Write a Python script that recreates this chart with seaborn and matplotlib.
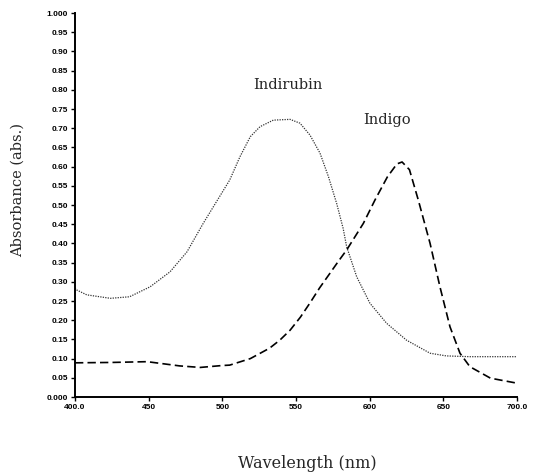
import matplotlib
matplotlib.use("Agg")
import matplotlib.pyplot as plt
import seaborn as sns
import pandas as pd

# Indirubin absorbance spectrum
indirubin_nm = [400, 401, 408, 424, 437, 451, 464.5, 476, 487, 494, 505, 512, 519,
                525.6, 534.6, 546, 552.7, 559.5, 566.3, 572, 577.6, 582, 584.4, 591.2,
                600.2, 611.5, 625, 641, 652, 668, 700]
indirubin_abs = [0.284, 0.279, 0.266, 0.257, 0.261, 0.287, 0.326, 0.378, 0.452, 0.496,
                 0.565, 0.626, 0.678, 0.704, 0.721, 0.723, 0.713, 0.682, 0.635, 0.574,
                 0.504, 0.439, 0.391, 0.313, 0.244, 0.192, 0.148, 0.114, 0.107, 0.105,
                 0.105]

# Indigo absorbance spectrum
indigo_nm = [400, 425, 449, 471, 485, 500, 505, 519, 532, 539, 546, 553, 559.5, 566,
             573, 578.5, 584.4, 595.7, 603.6, 612, 618.5, 622, 627, 633, 641, 647.7,
             654.5, 661.3, 668, 682, 700]
indigo_abs = [0.089, 0.090, 0.092, 0.081, 0.077, 0.082, 0.083, 0.100, 0.127, 0.148,
              0.174, 0.208, 0.245, 0.284, 0.322, 0.352, 0.383, 0.452, 0.513, 0.573,
              0.607, 0.612, 0.592, 0.513, 0.400, 0.287, 0.183, 0.114, 0.079, 0.049,
              0.036]

x_ticks = [400, 450, 500, 550, 600, 650, 700]
x_tick_labels = ["400.0", "450", "500", "550", "600", "650", "700.0"]
y_ticks = [0.0, 0.05, 0.10, 0.15, 0.20, 0.25, 0.30, 0.35, 0.40, 0.45, 0.50,
           0.55, 0.60, 0.65, 0.70, 0.75, 0.80, 0.85, 0.90, 0.95, 1.0]
y_tick_labels = ["0.000", "0.05", "0.10", "0.15", "0.20", "0.25", "0.30", "0.35",
                 "0.40", "0.45", "0.50", "0.55", "0.60", "0.65", "0.70", "0.75",
                 "0.80", "0.85", "0.90", "0.95", "1.000"]

df_indirubin = pd.DataFrame({"nm": indirubin_nm, "abs": indirubin_abs})
df_indigo = pd.DataFrame({"nm": indigo_nm, "abs": indigo_abs})

sns.set_style("ticks")
plt.rcParams["font.family"] = ["DejaVu Serif"]

fig = plt.figure(figsize=(5.33, 4.75), dpi=100)
ax = fig.add_axes([75 / 533, 1 - 397 / 475, 442 / 533, 384 / 475])

sns.lineplot(data=df_indirubin, x="nm", y="abs", ax=ax, color="#333333",
             linewidth=0.9, linestyle=(0, (1, 1)))
sns.lineplot(data=df_indigo, x="nm", y="abs", ax=ax, color="black",
             linewidth=1.2, linestyle=(0, (5, 2.5)))

ax.set_xlim(400, 700)
ax.set_ylim(0, 1.0)
ax.set_xticks(x_ticks)
ax.set_xticklabels(x_tick_labels, fontfamily="Liberation Sans", fontweight="bold", fontsize=6)
ax.set_yticks(y_ticks)
ax.set_yticklabels(y_tick_labels, fontfamily="Liberation Sans", fontweight="bold", fontsize=6)
ax.tick_params(axis="both", direction="out", length=3, width=1, pad=2, colors="black")

for side in ["top", "right"]:
    ax.spines[side].set_visible(False)
for side in ["left", "bottom"]:
    ax.spines[side].set_linewidth(1.4)
    ax.spines[side].set_color("black")

ax.set_xlabel("Wavelength (nm)", fontsize=11.5, fontfamily="DejaVu Serif")
ax.set_ylabel("Absorbance (abs.)", fontsize=10.5, fontfamily="DejaVu Serif")
ax.xaxis.set_label_coords((307 - 75) / 442, (397 - 463) / 384)
ax.yaxis.set_label_coords((18 - 75) / 442, (397 - 190) / 384)
ax.xaxis.label.set_va("center")
ax.yaxis.label.set_va("center")

ax.text(520.8, 0.8125, "Indirubin", fontsize=10.5, fontfamily="DejaVu Serif",
        va="center", ha="left")
ax.text(595.5, 0.721, "Indigo", fontsize=10.5, fontfamily="DejaVu Serif",
        va="center", ha="left")

fig.savefig("out.png", dpi=100)
